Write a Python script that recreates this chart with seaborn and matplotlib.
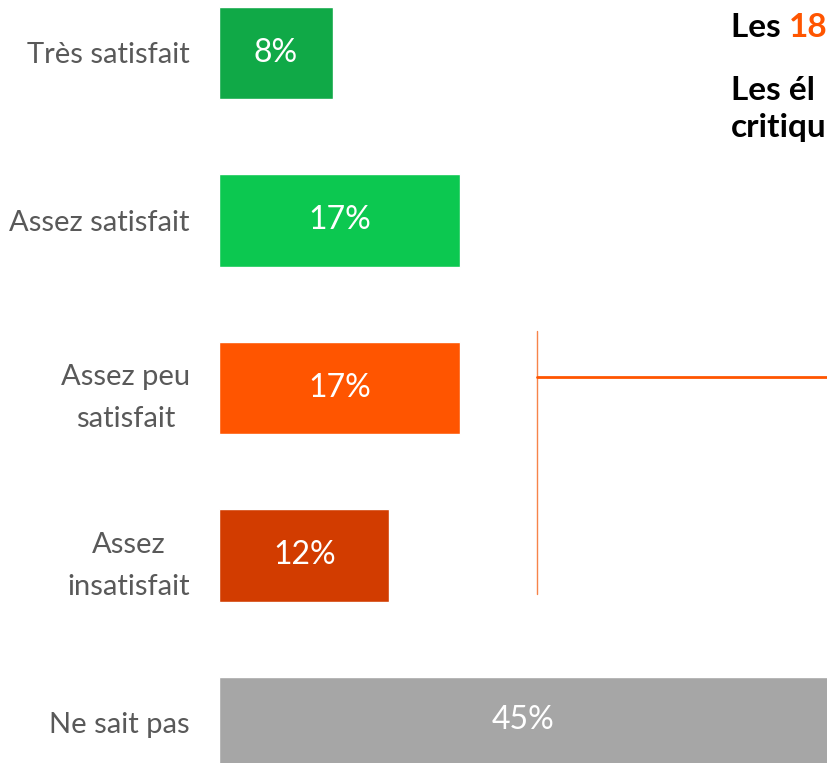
import matplotlib
matplotlib.use('Agg')
import matplotlib.pyplot as plt
from matplotlib.lines import Line2D
import pandas as pd
import seaborn as sns

# data
categories = ['Très satisfait', 'Assez satisfait', 'Assez peu\nsatisfait',
              'Assez\ninsatisfait', 'Ne sait pas']
values = [8, 17, 17, 12, 45]
colors = ['#10A947', '#0CC850', '#FF5500', '#D23C00', '#A6A6A6']

df = pd.DataFrame({'cat': categories, 'val': values})

sns.set_theme(style='white')
plt.rcParams['font.family'] = ['Lato', 'DejaVu Sans']

fig = plt.figure(figsize=(8.28, 7.63), dpi=100)
ax = fig.add_axes([219 / 828, 0, 609 / 828, 1])

sns.barplot(data=df, x='val', y='cat', hue='cat', palette=colors,
            orient='h', width=0.55, legend=False, saturation=1, ax=ax)

for cont in ax.containers:
    ax.bar_label(cont, fmt='%d%%', label_type='center', color='white',
                 fontsize=23)

ax.set_xlim(0, 609 / 14.2)
ax.set_ylim(4.239, -0.316)
ax.set_xlabel('')
ax.set_ylabel('')
ax.set_xticks([])
ax.tick_params(axis='y', length=0, pad=21, labelsize=21, labelcolor='#595959')
for lab in ax.get_yticklabels():
    lab.set_multialignment('center')
    lab.set_linespacing(1.75)
sns.despine(ax=ax, left=True, bottom=True)

# bracket
fig.add_artist(Line2D([537 / 828, 537 / 828], [1 - 331 / 763, 1 - 594 / 763],
                      transform=fig.transFigure, color='#F7844A', lw=1.0))
fig.add_artist(Line2D([537 / 828, 1], [1 - 377 / 763, 1 - 377 / 763],
                      transform=fig.transFigure, color='#FF5500', lw=2.0))

# headline text (cut at the right edge)
t1 = fig.text(731 / 828, 1 - 37 / 763, 'Les ', fontsize=24, fontweight='bold',
              color='black', va='baseline')
fig.canvas.draw()
bb = t1.get_window_extent()
fig.text(bb.x1 / fig.bbox.width, 1 - 37 / 763, '18', fontsize=24,
         fontweight='bold', color='#FF5500', va='baseline')
fig.text(731 / 828, 1 - 100 / 763, 'Les él', fontsize=24,
         fontweight='bold', color='black', va='baseline')
fig.text(731 / 828, 1 - 137 / 763, 'critiqu', fontsize=24,
         fontweight='bold', color='black', va='baseline')

fig.savefig('out.png', dpi=100)
